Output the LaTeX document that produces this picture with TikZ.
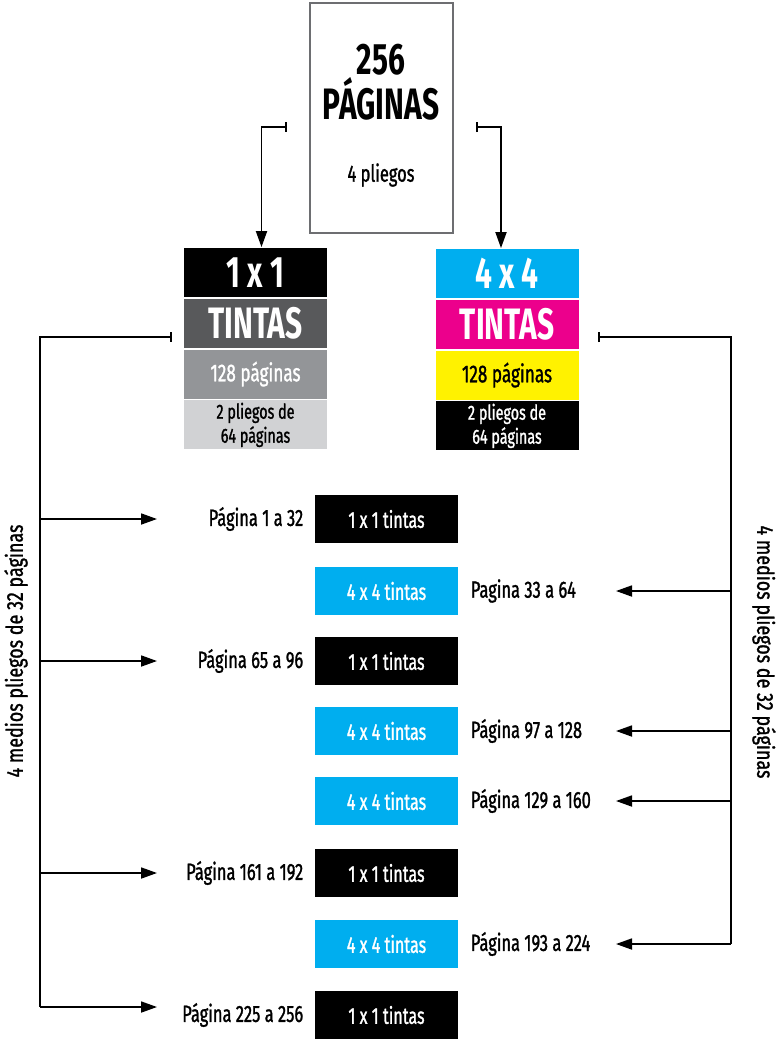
\documentclass[tikz,border=0pt]{standalone}
\usepackage{fontspec}
\setmainfont{Fira Sans}
\newfontfamily\cond[FakeStretch=0.7,FakeBold=1.2]{Fira Sans}
\newfontfamily\condside[FakeStretch=0.78,FakeBold=1.2]{Fira Sans}
\newfontfamily\condbf[FakeStretch=0.68]{Fira Sans Bold}
\usetikzlibrary{arrows.meta,positioning,calc}
\definecolor{inkcyan}{HTML}{00AEEF}
\definecolor{inkmagenta}{HTML}{EC008C}
\definecolor{inkyellow}{HTML}{FFF200}
\definecolor{greydark}{HTML}{58595B}
\definecolor{greymid}{HTML}{939598}
\definecolor{greylight}{HTML}{D1D2D4}
\definecolor{boxline}{HTML}{6D6E71}
\tikzstyle{band}=[minimum width=143pt,minimum height=49pt,inner sep=0pt,align=center]
\tikzstyle{chip}=[minimum width=143pt,minimum height=48pt,inner sep=0pt,text=white,font=\cond\fontsize{23}{25}\selectfont]
\tikzstyle{pagerange}=[inner sep=0pt,font=\cond\fontsize{23.5}{25}\selectfont]
\tikzstyle{side}=[inner sep=0pt,font=\condside\fontsize{23}{25}\selectfont]
\tikzstyle{big}=[font=\condbf\fontsize{44}{44}\selectfont]
\begin{document}
\begin{tikzpicture}[x=1pt,y=-1pt,line width=1.8pt,
tick/.style={{Bar[width=10pt,line width=1.8pt]}-},
tickarr/.style={{Bar[width=10pt,line width=1.8pt]}-{Triangle[length=16pt,width=11pt]}},
arr/.style={-{Triangle[length=16pt,width=11pt]}}]
\useasboundingbox (0,0) rectangle (776,1039);
% pliego total
\node [draw=boxline,line width=2pt,minimum width=143pt,minimum height=230pt] (total) at (381,117.5) {};
\node [big] (tnum) at (381,60) {256};
\node [big] (tword) at (381,99) {PÁGINAS};
\node [font=\cond\fontsize{23.5}{25}\selectfont] (tpliegos) at (381,175) {4 pliegos};
% 1x1 tintas
\node [band,fill=black,text=white,big] (k1) at (255.5,272.5) {1 x 1};
\node [band,fill=greydark,text=white,big,below=0pt of k1] (k2) {TINTAS};
\node [band,fill=greymid,text=white,below=0pt of k2,font=\cond\fontsize{24.5}{26}\selectfont] (k3) {128 páginas};
\node [band,fill=greylight,text=black,below=0pt of k3,font=\cond\fontsize{20.5}{24}\selectfont] (k4) {2 pliegos de\\64 páginas};
% 4x4 tintas
\node [band,fill=inkcyan,text=white,big] (c1) at (507,273.5) {4 x 4};
\node [band,fill=inkmagenta,text=white,big,below=0pt of c1] (c2) {TINTAS};
\node [band,fill=inkyellow,text=black,below=0pt of c2,font=\cond\fontsize{24.5}{26}\selectfont] (c3) {128 páginas};
\node [band,fill=black,text=white,below=0pt of c3,font=\cond\fontsize{20.5}{24}\selectfont] (c4) {2 pliegos de\\64 páginas};
% medios pliegos
\node [chip,fill=black] (b1) at (386.5,519) {1 x 1 tintas};
\node [chip,fill=inkcyan] (b2) at (386.5,591) {4 x 4 tintas};
\node [chip,fill=black] (b3) at (386.5,661) {1 x 1 tintas};
\node [chip,fill=inkcyan] (b4) at (386.5,731) {4 x 4 tintas};
\node [chip,fill=inkcyan] (b5) at (386.5,801) {4 x 4 tintas};
\node [chip,fill=black] (b6) at (386.5,873) {1 x 1 tintas};
\node [chip,fill=inkcyan] (b7) at (386.5,944) {4 x 4 tintas};
\node [chip,fill=black] (b8) at (386.5,1015) {1 x 1 tintas};
\node [pagerange,left=10pt of b1] (p1) {Página 1 a 32};
\node [pagerange,right=11pt of b2] (p2) {Pagina 33 a 64};
\node [pagerange,left=10pt of b3] (p3) {Página 65 a 96};
\node [pagerange,right=11pt of b4] (p4) {Página 97 a 128};
\node [pagerange,right=11pt of b5] (p5) {Página 129 a 160};
\node [pagerange,left=10pt of b6] (p6) {Página 161 a 192};
\node [pagerange,right=11pt of b7] (p7) {Página 193 a 224};
\node [pagerange,left=10pt of b8] (p8) {Página 225 a 256};
\node [side,rotate=90] (lside) at (16,651) {4 medios pliegos de 32 páginas};
\node [side,rotate=-90] (rside) at (764,652) {4 medios pliegos de 32 páginas};
% conectores
\coordinate (ltop) at (287,127);
\coordinate (rtop) at (476,127);
\draw [tickarr] (ltop) -| ([xshift=6pt]k1.north);
\draw [tickarr] (rtop) -| ([xshift=-6pt]c1.north);
\coordinate (lstart) at (172,337);
\coordinate (lspine) at (40,0);
\coordinate (ltip) at (157,0);
\coordinate (rstart) at (598,337);
\coordinate (rspine) at (731,0);
\coordinate (rtip) at (616,0);
\draw [tick] (lstart) -| ([yshift=8pt]lspine |- p8);
\foreach \p in {p1,p3,p6}
    \draw [arr] (lspine |- \p) -- (ltip |- \p);
\draw [arr] ([yshift=8pt]lspine |- p8) -- ([yshift=8pt]ltip |- p8);
\draw [tick] (rstart) -| (rspine |- p7);
\foreach \p in {p2,p4,p5,p7}
    \draw [arr] (rspine |- \p) -- (rtip |- \p);
\end{tikzpicture}
\end{document}
